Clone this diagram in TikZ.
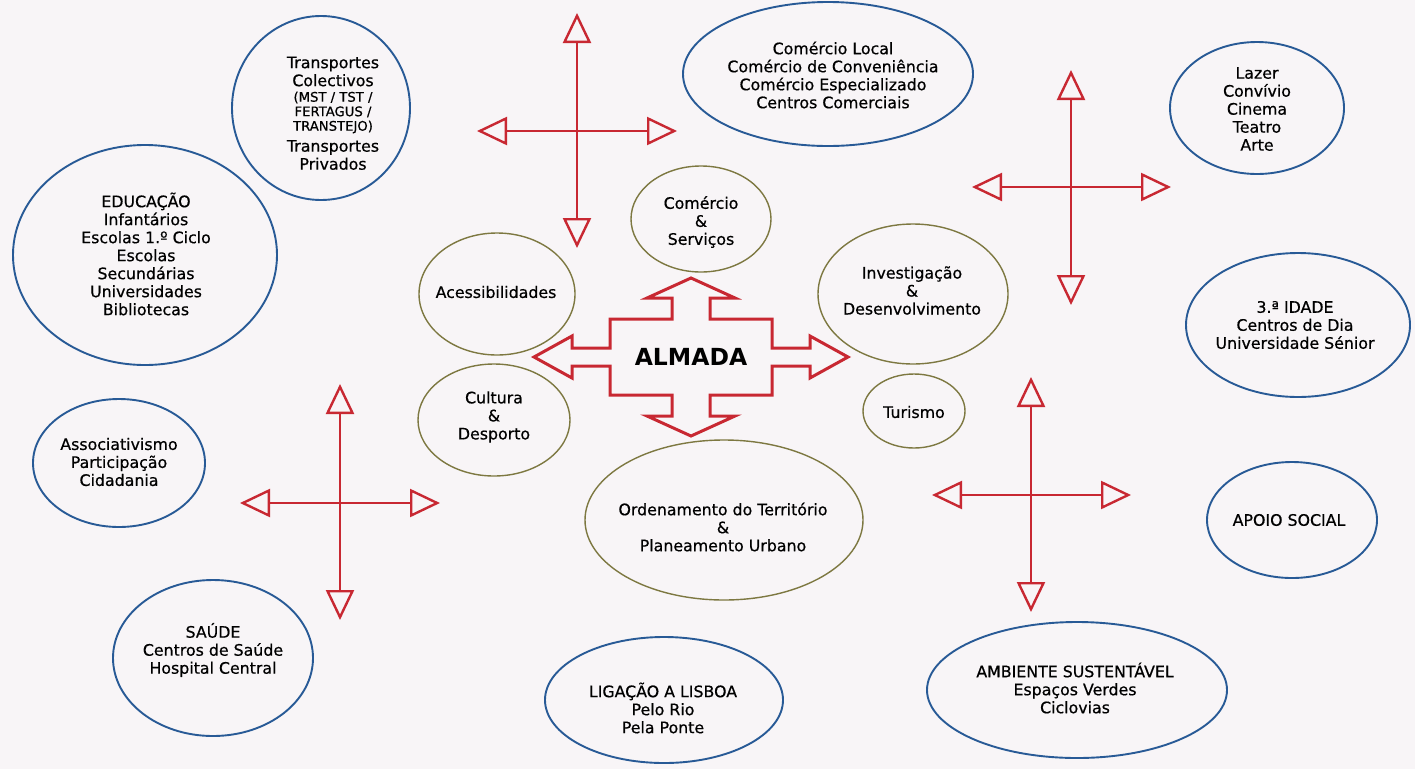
\documentclass[tikz,border=0pt]{standalone}
\usepackage{fontspec}
\setmainfont{DejaVu Sans}
\newfontfamily\medfont[FakeBold=0.6]{DejaVu Sans}
\definecolor{bg}{RGB}{248,245,247}
\usetikzlibrary{shapes.geometric,arrows.meta}
\definecolor{eblue}{RGB}{40,90,150}
\definecolor{eolive}{RGB}{125,120,65}
\definecolor{ared}{RGB}{200,40,50}
\begin{document}
\begin{tikzpicture}[x=1pt,y=-1pt,
  outer/.style={ellipse, draw=eblue, line width=1.9pt, inner sep=0pt},
  inner/.style={ellipse, draw=eolive, line width=1.4pt, inner sep=0pt},
  txt/.style={align=center, font=\medfont\fontsize{15.8}{18}\selectfont, inner sep=0pt},
  smalltxt/.style={align=center, font=\medfont\fontsize{13.2}{14.5}\selectfont, inner sep=0pt},
  tipd/.tip={Triangle[open,length=30pt 0,width=28pt 0,line join=miter]},
  cross/.style={draw=ared, line width=2.4pt, tipd-tipd}
]
\fill[bg] (0,0) rectangle (1415,769);
\useasboundingbox (0,0) rectangle (1415,769);

% outer ellipses
\node[outer, minimum width=178pt, minimum height=184pt] (e1) at (321,108) {};
\node[txt] (t1a) at (333,71.5) {Transportes\\Colectivos};
\node[smalltxt] (t1b) at (333,112.5) {(MST / TST /\\FERTAGUS /\\TRANSTEJO)};
\node[txt] (t1c) at (333,155) {Transportes\\Privados};

\node[outer, minimum width=290pt, minimum height=144pt] (e2) at (828,74) {};
\node[txt] (t2) at (833,75) {Comércio Local\\Comércio de Conveniência\\Comércio Especializado\\Centros Comerciais};

\node[outer, minimum width=174pt, minimum height=132pt] (e3) at (1257,108) {};
\node[txt] (t3) at (1257,109) {Lazer\\Convívio\\Cinema\\Teatro\\Arte};

\node[outer, minimum width=264pt, minimum height=220pt] (e4) at (145,255) {};
\node[txt] (t4) at (146,254) {EDUCAÇÃO\\Infantários\\Escolas 1.º Ciclo\\Escolas\\Secundárias\\Universidades\\Bibliotecas};

\node[outer, minimum width=224pt, minimum height=144pt] (e9) at (1298,325) {};
\node[txt] (t9) at (1295,325) {3.ª IDADE\\Centros de Dia\\Universidade Sénior};

\node[outer, minimum width=172pt, minimum height=128pt] (e11) at (119,463) {};
\node[txt] (t11) at (119,462) {Associativismo\\Participação\\Cidadania};

\node[outer, minimum width=170pt, minimum height=116pt] (e13) at (1292,520) {};
\node[txt] (t13) at (1289,520) {APOIO SOCIAL};

\node[outer, minimum width=200pt, minimum height=156pt] (e14) at (213,658) {};
\node[txt] (t14) at (213,650) {SAÚDE\\Centros de Saúde\\Hospital Central};

\node[outer, minimum width=238pt, minimum height=126pt] (e15) at (664,700) {};
\node[txt] (t15) at (663,708) {LIGAÇÃO A LISBOA\\Pelo Rio\\Pela Ponte};

\node[outer, minimum width=300pt, minimum height=136pt] (e16) at (1077,690) {};
\node[txt] (t16) at (1075,688) {AMBIENTE SUSTENTÁVEL\\Espaços Verdes\\Ciclovias};

% inner ellipses
\node[inner, minimum width=140pt, minimum height=106pt] (e5) at (701,219) {};
\node[txt] (t5) at (701,222) {Comércio\\\&\\Serviços};

\node[inner, minimum width=156pt, minimum height=122pt] (e6) at (497,294) {};
\node[txt] (t6) at (496,292) {Acessibilidades};

\node[inner, minimum width=152pt, minimum height=112pt] (e7) at (494,420) {};
\node[txt] (t7) at (494,417) {Cultura\\\&\\Desporto};

\node[inner, minimum width=190pt, minimum height=140pt] (e8) at (913,294) {};
\node[txt] (t8) at (912,290.5) {Investigação\\\&\\Desenvolvimento};

\node[inner, minimum width=102pt, minimum height=74pt] (e10) at (914,411) {};
\node[txt] (t10) at (914,412) {Turismo};

\node[inner, minimum width=278pt, minimum height=160pt] (e12) at (724,520) {};
\node[txt] (t12) at (723,527) {Ordenamento do Território\\\&\\Planeamento Urbano};

% crosses
\coordinate (aT) at (577,13);  \coordinate (aB) at (577,248);
\coordinate (aL) at (477,131); \coordinate (aR) at (677,131);
\coordinate (bT) at (1071,70);  \coordinate (bB) at (1071,305);
\coordinate (bL) at (972,187);  \coordinate (bR) at (1171,187);
\coordinate (cT) at (340,384);  \coordinate (cB) at (340,620);
\coordinate (cL) at (240,503);  \coordinate (cR) at (440,503);
\coordinate (dT) at (1031,377); \coordinate (dB) at (1031,612);
\coordinate (dL) at (932,495);  \coordinate (dR) at (1131,495);
\draw[cross] (aL) -- (aR); \draw[cross] (aT) -- (aB);
\draw[cross] (bL) -- (bR); \draw[cross] (bT) -- (bB);
\draw[cross] (cL) -- (cR); \draw[cross] (cT) -- (cB);
\draw[cross] (dL) -- (dR); \draw[cross] (dT) -- (dB);

% central arrow
\coordinate (c) at (691,357);
\begin{scope}[shift={(c)}]
\draw[ared, line width=3pt, line join=miter, fill=bg]
  (-157,0) -- (-119,-21) -- (-119,-9) -- (-81,-9) -- (-81,-38) -- (-19,-38) -- (-19,-59) -- (-44,-59)
  -- (0,-79) -- (44,-59) -- (19,-59) -- (19,-38) -- (81,-38) -- (81,-9) -- (119,-9) -- (119,-21)
  -- (157,0) -- (119,21) -- (119,9) -- (81,9) -- (81,38) -- (19,38) -- (19,59) -- (44,59)
  -- (0,79) -- (-44,59) -- (-19,59) -- (-19,38) -- (-81,38) -- (-81,9) -- (-119,9) -- (-119,21) -- cycle;
\end{scope}
\node[font=\bfseries\fontsize{23.5}{26}\selectfont, inner sep=0pt] (almada) at (c) {ALMADA};
\end{tikzpicture}
\end{document}
